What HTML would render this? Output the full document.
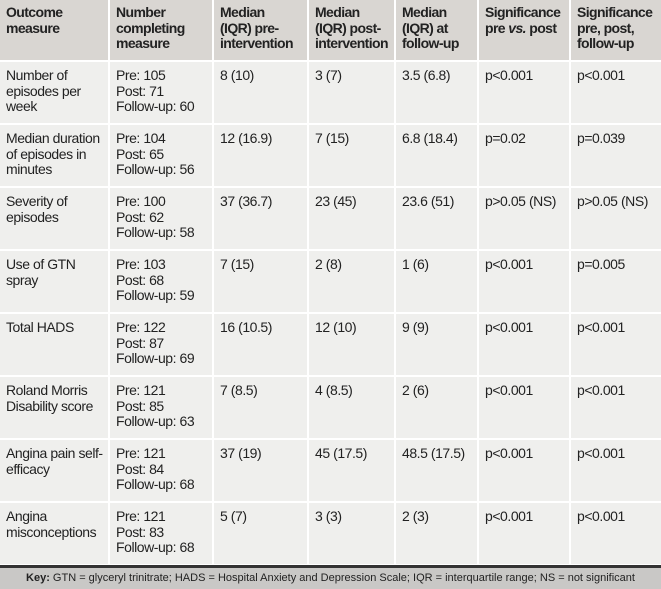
<!DOCTYPE html>
<html><head><meta charset="utf-8"><style>
body{margin:0;width:661px;height:589px;background:#fff;font-family:"Liberation Sans",sans-serif;overflow:hidden}
table{border-collapse:collapse;table-layout:fixed;width:661px;position:absolute;left:0;top:0}
td,th{border:2px solid #fff;vertical-align:top;text-align:left;font-size:14px;line-height:15.5px;letter-spacing:-0.45px;padding:6px 5px 0 6px;color:#222}
th{background:#d9d6d2;font-weight:bold;height:55px;padding-top:5px;border-top:none;letter-spacing:-0.6px}
td{background:#efefed;height:55px}
tr td:first-child,tr th:first-child{border-left:none}
tr td:last-child,tr th:last-child{border-right:none}
.foot{position:absolute;left:0;top:565px;width:661px;height:24px;background:#c9c8c6;border-top:3px solid #333;box-sizing:border-box;font-size:11px;line-height:20px;text-align:center;color:#222}
</style></head><body>
<table>
<colgroup><col style="width:109px"><col style="width:104px"><col style="width:95px"><col style="width:87px"><col style="width:83px"><col style="width:92px"><col style="width:91px"></colgroup>
<tr><th>Outcome measure</th><th>Number completing measure</th><th>Median<br>(IQR) pre-intervention</th><th>Median<br>(IQR) post-intervention</th><th>Median<br>(IQR) at follow-up</th><th>Significance pre <i>vs.</i> post</th><th>Significance pre, post, follow-up</th></tr>
<tr><td>Number of episodes per week</td><td>Pre: 105<br>Post: 71<br>Follow-up: 60</td><td>8 (10)</td><td>3 (7)</td><td>3.5 (6.8)</td><td>p&lt;0.001</td><td>p&lt;0.001</td></tr>
<tr><td>Median duration of episodes in minutes</td><td>Pre: 104<br>Post: 65<br>Follow-up: 56</td><td>12 (16.9)</td><td>7 (15)</td><td>6.8 (18.4)</td><td>p=0.02</td><td>p=0.039</td></tr>
<tr><td>Severity of episodes</td><td>Pre: 100<br>Post: 62<br>Follow-up: 58</td><td>37 (36.7)</td><td>23 (45)</td><td>23.6 (51)</td><td>p&gt;0.05 (NS)</td><td>p&gt;0.05 (NS)</td></tr>
<tr><td>Use of GTN spray</td><td>Pre: 103<br>Post: 68<br>Follow-up: 59</td><td>7 (15)</td><td>2 (8)</td><td>1 (6)</td><td>p&lt;0.001</td><td>p=0.005</td></tr>
<tr><td>Total HADS</td><td>Pre: 122<br>Post: 87<br>Follow-up: 69</td><td>16 (10.5)</td><td>12 (10)</td><td>9 (9)</td><td>p&lt;0.001</td><td>p&lt;0.001</td></tr>
<tr><td>Roland Morris Disability score</td><td>Pre: 121<br>Post: 85<br>Follow-up: 63</td><td>7 (8.5)</td><td>4 (8.5)</td><td>2 (6)</td><td>p&lt;0.001</td><td>p&lt;0.001</td></tr>
<tr><td>Angina pain self-efficacy</td><td>Pre: 121<br>Post: 84<br>Follow-up: 68</td><td>37 (19)</td><td>45 (17.5)</td><td>48.5 (17.5)</td><td>p&lt;0.001</td><td>p&lt;0.001</td></tr>
<tr><td>Angina misconceptions</td><td>Pre: 121<br>Post: 83<br>Follow-up: 68</td><td>5 (7)</td><td>3 (3)</td><td>2 (3)</td><td>p&lt;0.001</td><td>p&lt;0.001</td></tr>
</table>
<div class="foot"><b>Key:</b> GTN = glyceryl trinitrate; HADS = Hospital Anxiety and Depression Scale; IQR = interquartile range; NS = not significant</div>
</body></html>
